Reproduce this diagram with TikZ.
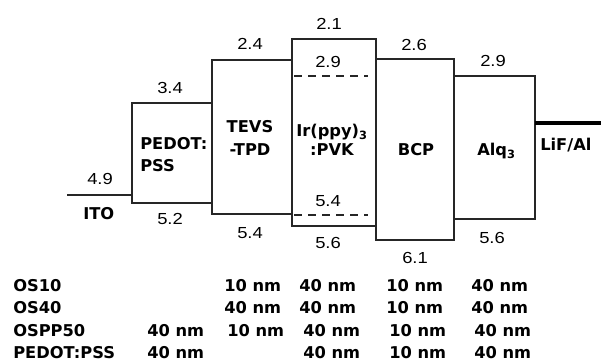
\documentclass[tikz,border=0pt]{standalone}
\usepackage{fontspec}
\newfontfamily\numfont{Liberation Sans}[FakeStretch=1.15]
\newfontfamily\lblfont{DejaVu Sans}

\begin{document}
\begin{tikzpicture}[x=0.75pt,y=0.75pt,yscale=-1,xscale=1,
  lvl/.style={font=\numfont\fontsize{12}{14}\selectfont, inner sep=0.75pt},
  lbl/.style={font=\lblfont\bfseries\fontsize{12.2}{14}\selectfont, inner sep=0.75pt},
  band/.style={line width=1pt, color=black!85}]
\useasboundingbox (0,0) rectangle (601,360);

%Straight Lines [id:ito] 
\draw [band, line width=1.2pt]   (67,195) -- (132,195) ;
%Shape: Rectangle [id:pedot] 
\draw [band]  (132,103) rectangle (212,203) ;
%Shape: Rectangle [id:tevs] 
\draw [band]  (212,60) rectangle (292,214) ;
%Shape: Rectangle [id:irppy] 
\draw [band]  (292,39) rectangle (376,226) ;
%Straight Lines [id:dash1] 
\draw [band, dash pattern={on 6pt off 4.5pt}]   (294,76) -- (368,76) ;
%Straight Lines [id:dash2] 
\draw [band, dash pattern={on 6pt off 4.5pt}]   (294,215) -- (368,215) ;
%Shape: Rectangle [id:bcp] 
\draw [band]  (376,59) rectangle (454,240) ;
%Shape: Rectangle [id:alq] 
\draw [band]  (454,76) rectangle (535,219) ;
%Straight Lines [id:lifal] 
\draw [line width=2.6pt]   (535,123) -- (601,123) ;

% Text Node
\draw (86,172) node [anchor=north west][lvl] (e49) {4.9};
% Text Node
\draw (156,81) node [anchor=north west][lvl] (e34) {3.4};
% Text Node
\draw (236,37) node [anchor=north west][lvl] (e24) {2.4};
% Text Node
\draw (156,212) node [anchor=north west][lvl] (e52) {5.2};
% Text Node
\draw (236,226) node [anchor=north west][lvl] (e54a) {5.4};
% Text Node
\draw (315,17) node [anchor=north west][lvl] (e21) {2.1};
% Text Node
\draw (314,55) node [anchor=north west][lvl] (e29a) {2.9};
% Text Node
\draw (314,194) node [anchor=north west][lvl] (e54b) {5.4};
% Text Node
\draw (314,236) node [anchor=north west][lvl] (e56a) {5.6};
% Text Node
\draw (400,38) node [anchor=north west][lvl] (e26) {2.6};
% Text Node
\draw (401,251) node [anchor=north west][lvl] (e61) {6.1};
% Text Node
\draw (479,54) node [anchor=north west][lvl] (e29b) {2.9};
% Text Node
\draw (478,231) node [anchor=north west][lvl] (e56b) {5.6};

% Text Node
\draw (82,206) node [anchor=north west][lbl] (tITO) {ITO};
% Text Node
\draw (139,136) node [anchor=north west][lbl, align=left, font=\lblfont\bfseries\fontsize{12.2}{16.5}\selectfont] (tPEDOT) {PEDOT:\\PSS};
% Text Node
\draw (250,119) node [anchor=north][lbl, align=center, font=\lblfont\bfseries\fontsize{12.2}{17.2}\selectfont] (tTEVS) {TEVS\\-TPD};
% Text Node
\draw (332,123) node [anchor=north][lbl, align=center, font=\lblfont\bfseries\fontsize{12.2}{14.3}\selectfont] (tIr) {Ir(ppy)\textsubscript{3}\\:PVK};
% Text Node
\draw (416,142) node [anchor=north][lbl] (tBCP) {BCP};
% Text Node
\draw (476,142) node [anchor=north west][lbl] (tAlq) {Alq\textsubscript{3}};
% Text Node
\draw (539,137) node [anchor=north west][lbl] (tLiF) {LiF/Al};

% Text Node
\draw (12,278) node [anchor=north west][lbl] (rOS10) {OS10};
% Text Node
\draw (223,278) node [anchor=north west][lbl] (rOS10b) {10 nm};
% Text Node
\draw (298,278) node [anchor=north west][lbl] (rOS10c) {40 nm};
% Text Node
\draw (385,278) node [anchor=north west][lbl] (rOS10d) {10 nm};
% Text Node
\draw (470,278) node [anchor=north west][lbl] (rOS10e) {40 nm};

% Text Node
\draw (12,300.5) node [anchor=north west][lbl] (rOS40) {OS40};
% Text Node
\draw (223,300.5) node [anchor=north west][lbl] (rOS40b) {40 nm};
% Text Node
\draw (298,300.5) node [anchor=north west][lbl] (rOS40c) {40 nm};
% Text Node
\draw (385,300.5) node [anchor=north west][lbl] (rOS40d) {10 nm};
% Text Node
\draw (470,300.5) node [anchor=north west][lbl] (rOS40e) {40 nm};

% Text Node
\draw (12,323) node [anchor=north west][lbl] (rOSPP) {OSPP50};
% Text Node
\draw (146,323) node [anchor=north west][lbl] (rOSPPa) {40 nm};
% Text Node
\draw (226,323) node [anchor=north west][lbl] (rOSPPb) {10 nm};
% Text Node
\draw (302,323) node [anchor=north west][lbl] (rOSPPc) {40 nm};
% Text Node
\draw (388,323) node [anchor=north west][lbl] (rOSPPd) {10 nm};
% Text Node
\draw (473,323) node [anchor=north west][lbl] (rOSPPe) {40 nm};

% Text Node
\draw (12,345) node [anchor=north west][lbl] (rPEDOT) {PEDOT:PSS};
% Text Node
\draw (146,345) node [anchor=north west][lbl] (rPEDOTa) {40 nm};
% Text Node
\draw (302,345) node [anchor=north west][lbl] (rPEDOTc) {40 nm};
% Text Node
\draw (388,345) node [anchor=north west][lbl] (rPEDOTd) {10 nm};
% Text Node
\draw (473,345) node [anchor=north west][lbl] (rPEDOTe) {40 nm};
\end{tikzpicture}
\end{document}
